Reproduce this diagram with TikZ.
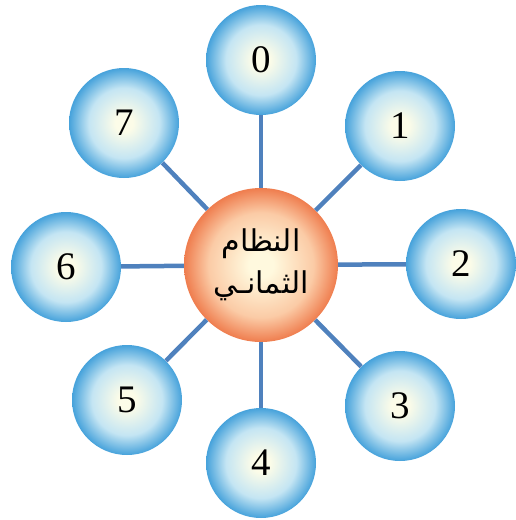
\documentclass[tikz,border=0pt]{standalone}
\usepackage{fontspec}
\setmainfont{Liberation Serif}
\newfontfamily\arabicfont[Script=Arabic]{DejaVu Sans}
\TeXXeTstate=1
\usepackage{tikz}

\definecolor{linkblue}{HTML}{4F81BD}
\definecolor{bubin}{HTML}{FCFCE8}
\definecolor{bubmid}{HTML}{C4E5F3}
\definecolor{bubout}{HTML}{46A2DB}
\definecolor{hubin}{HTML}{FFF9DE}
\definecolor{hubmid}{HTML}{FBCBA6}
\definecolor{hubout}{HTML}{EF7D4E}

% path edge sits at 25bp of the shading
\pgfdeclareradialshading{bubble}{\pgfpoint{0bp}{0bp}}%
  {color(0bp)=(bubin); color(4bp)=(bubin); color(16bp)=(bubmid); color(25bp)=(bubout); color(50bp)=(bubout)}
\pgfdeclareradialshading{hubshade}{\pgfpoint{0bp}{0bp}}%
  {color(0bp)=(hubin); color(4bp)=(hubin); color(17bp)=(hubmid); color(25bp)=(hubout); color(50bp)=(hubout)}

\tikzset{
  digit/.style={circle,minimum size=110pt,inner sep=0pt,
    shading=bubble,font=\fontsize{39}{42}\selectfont},
  hub/.style={circle,minimum size=154pt,inner sep=0pt,align=center,
    shading=hubshade,font=\arabicfont\fontsize{30}{42}\selectfont},
  link/.style={linkblue,line width=4.5pt}
}

\begin{document}
\begin{tikzpicture}[x=1pt,y=-1pt]
  \useasboundingbox (0,0) rectangle (516,520);
  % centre
  \node[hub] (c) at (261,265) {\beginR النظام\endR\\ \beginR الثمانـي\endR};
  % digits round the centre
  \node[digit] (n0) at (261,60)  {0};
  \node[digit] (n1) at (400,126) {1};
  \node[digit] (n2) at (461,264) {2};
  \node[digit] (n3) at (400,406) {3};
  \node[digit] (n4) at (261,463) {4};
  \node[digit] (n5) at (127,400) {5};
  \node[digit] (n6) at (66,267)  {6};
  \node[digit] (n7) at (124,123) {7};
  % spokes
  \draw[link] (c) -- (n0);
  \draw[link] (c) -- (n1);
  \draw[link] (c) -- (n2);
  \draw[link] (c) -- (n3);
  \draw[link] (c) -- (n4);
  \draw[link] (c) -- (n5);
  \draw[link] (c) -- (n6);
  \draw[link] (c) -- (n7);
\end{tikzpicture}
\end{document}
